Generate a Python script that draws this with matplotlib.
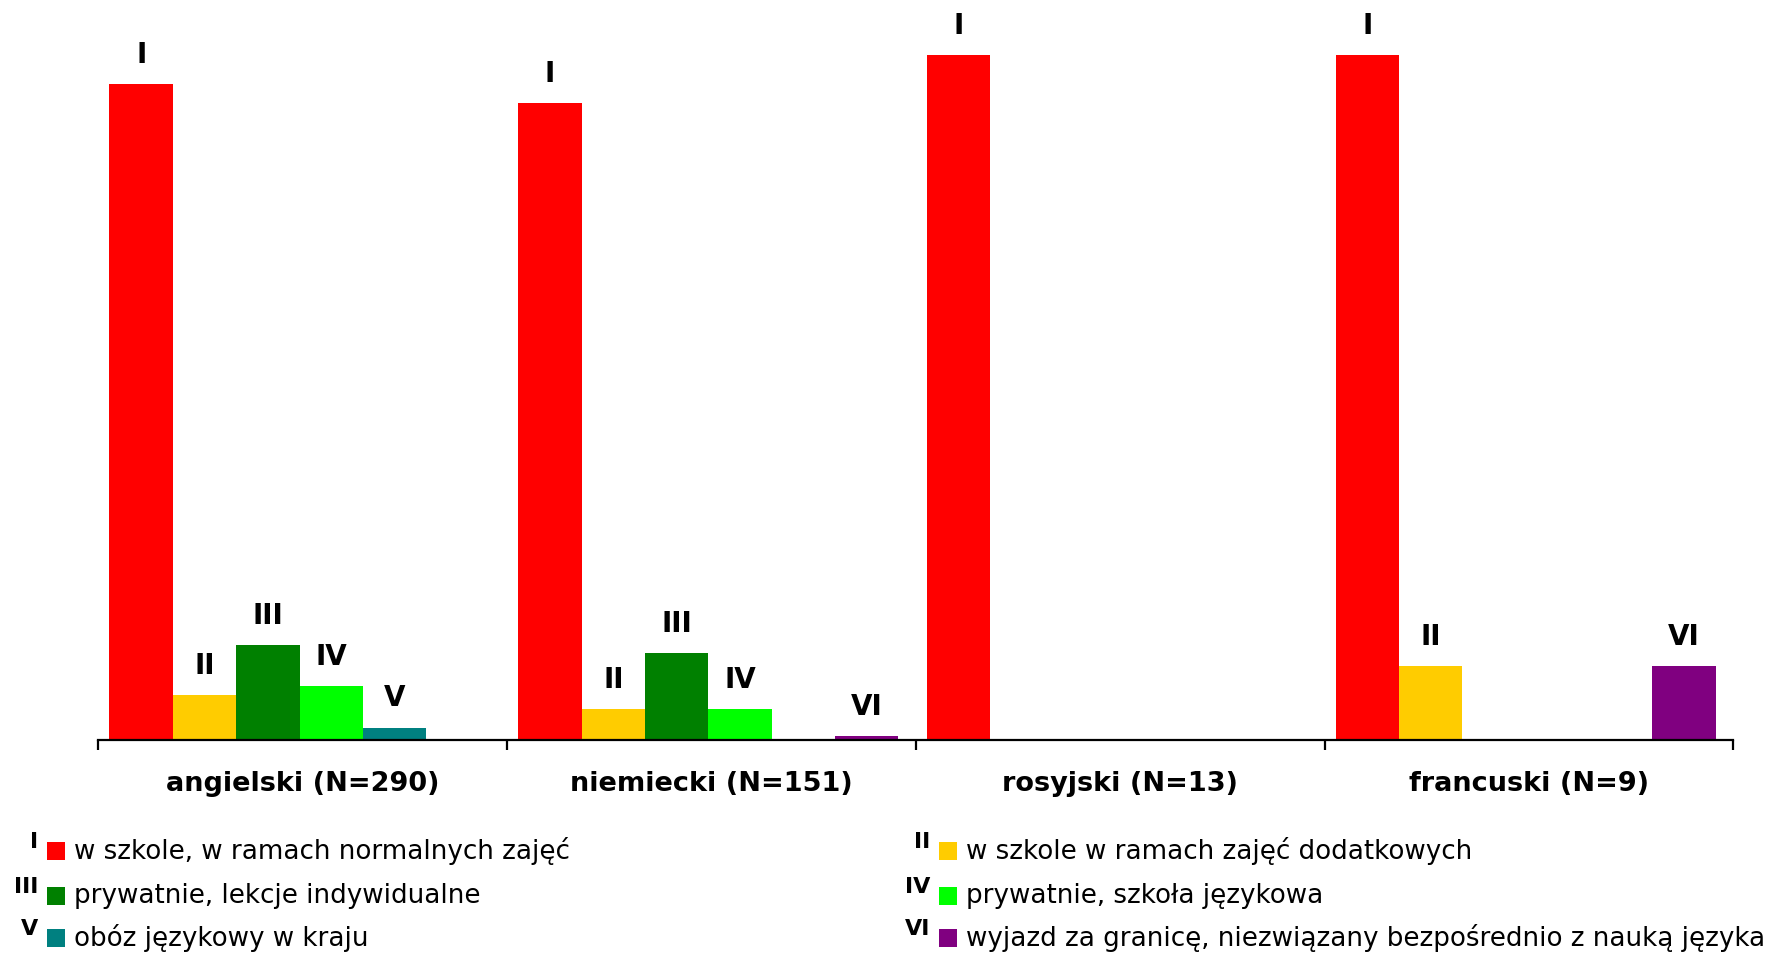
import numpy as np
import matplotlib.pyplot as plt
from matplotlib.patches import Rectangle

# Data (percent of respondents)
categories = ["angielski (N=290)", "niemiecki (N=151)", "rosyjski (N=13)", "francuski (N=9)"]
numerals = ["I", "II", "III", "IV", "V", "VI"]
series_names = [
    "w szkole, w ramach normalnych zajęć",
    "w szkole w ramach zajęć dodatkowych",
    "prywatnie, lekcje indywidualne",
    "prywatnie, szkoła językowa",
    "obóz językowy w kraju",
    "wyjazd za granicę, niezwiązany bezpośrednio z nauką języka",
]
colors = ["#FF0000", "#FFCC00", "#008000", "#00FF00", "#008080", "#800080"]

s_I = [95.8, 93.0, 100.0, 100.0]
s_II = [6.6, 4.5, 0.0, 10.8]
s_III = [13.9, 12.7, 0.0, 0.0]
s_IV = [7.9, 4.5, 0.0, 0.0]
s_V = [1.8, 0.0, 0.0, 0.0]
s_VI = [0.0, 0.6, 0.0, 10.8]
series = [s_I, s_II, s_III, s_IV, s_V, s_VI]

plt.rcParams["font.family"] = ["DejaVu Sans"]

fig = plt.figure(figsize=(17.74, 9.55), dpi=100)
ax = fig.add_axes([0.0555, 0.2251, 0.9216, 0.7169])

x = np.arange(len(categories)) + 0.5
w = 0.155
for j, vals in enumerate(series):
    pos = x + (j - 2.5) * w - 0.008
    ax.bar(pos, vals, width=w, color=colors[j], linewidth=0)
    for p, v in zip(pos, vals):
        if v > 0:
            ax.annotate(numerals[j], (p, v), xytext=(0, 11), textcoords="offset points",
                        ha="center", va="bottom", fontsize=20, fontweight="bold",
                        annotation_clip=False)

ax.set_xlim(0, len(categories))
ax.set_ylim(0, 100)
for s in ["top", "right", "left"]:
    ax.spines[s].set_visible(False)
ax.spines["bottom"].set_linewidth(1.6)
ax.set_yticks([])
ax.set_xticks(np.arange(len(categories) + 1))
ax.set_xticklabels([])
ax.tick_params(axis="x", which="major", direction="out", length=7, width=1.6)
ax.set_xticks(x, minor=True)
ax.set_xticklabels(categories, minor=True, fontsize=19.5, fontweight="bold")
ax.tick_params(axis="x", which="minor", length=0, pad=22.5)

# Legend drawn by hand, two columns with roman numerals in front
W, H = 1774.0, 955.0
col_x = [47.5, 939.0]
row_y = [851.0, 896.0, 938.0]
sq = 18.0
for j, name in enumerate(series_names):
    cx = col_x[j % 2]
    cy = row_y[j // 2]
    fig.patches.append(Rectangle((cx / W, 1 - (cy + sq / 2) / H), sq / W, sq / H,
                                 transform=fig.transFigure, facecolor=colors[j],
                                 edgecolor="none"))
    fig.text((cx + sq + 9) / W, 1 - cy / H, name, fontsize=18.8, va="center", ha="left")
    fig.text((cx - 9) / W, 1 - (cy - 9) / H, numerals[j], fontsize=16, fontweight="bold",
             va="center", ha="right")

fig.savefig("out.png", dpi=100, facecolor="white")
